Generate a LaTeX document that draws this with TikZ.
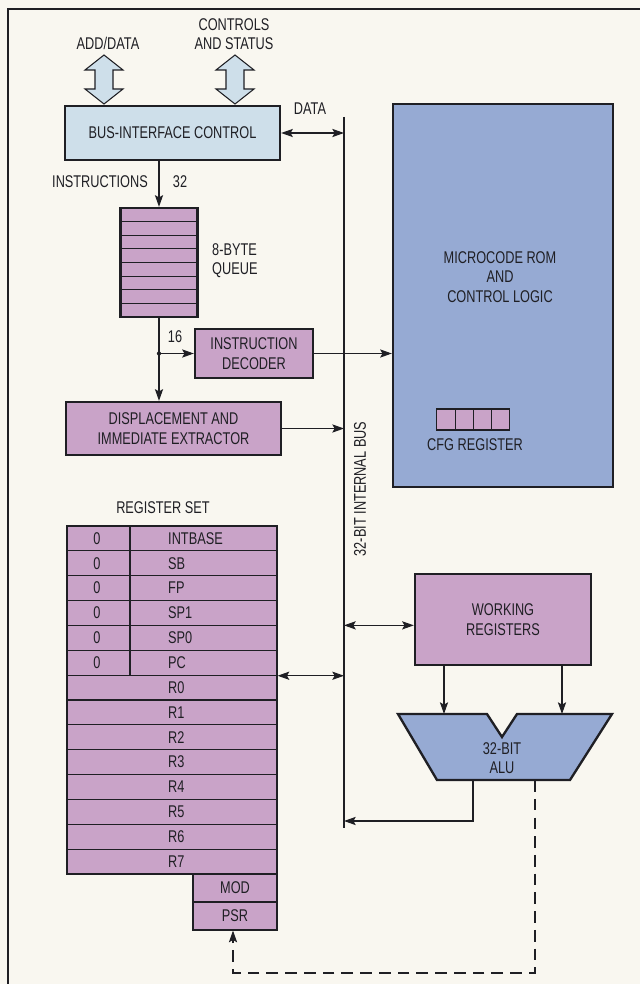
\documentclass[tikz,border=0pt]{standalone}
\usepackage{fontspec}
\setmainfont{Liberation Sans}[FakeStretch=0.75]
\usetikzlibrary{arrows.meta}
\definecolor{paper}{HTML}{F9F7F0}
\definecolor{ink}{HTML}{1F1F24}
\definecolor{mauve}{HTML}{C9A3C8}
\definecolor{slate}{HTML}{96AAD3}
\definecolor{pale}{HTML}{CEDFEA}
\newcommand\lbl{\fontsize{14.5}{16.5}\selectfont}
\tikzset{
  box/.style={draw=ink,line width=2pt,inner sep=0pt,align=center,text=ink,font=\lbl},
  txt/.style={inner sep=0pt,align=center,text=ink,font=\lbl},
  wire/.style={draw=ink,line width=0.9pt},
  cell/.style={draw=ink,line width=1pt,fill=mauve,inner sep=0pt,text=ink,font=\lbl,
    minimum width=6.3cm,minimum height=0.7457cm}
}

\begin{document}
\begin{tikzpicture}[x=0.03cm,y=-0.03cm,>={Stealth[length=10pt,width=7pt,inset=2pt]}]
	  \fill[paper] (0,0) rectangle (640,984);
	  \useasboundingbox (0,0) rectangle (640,984);
	  \draw[ink,line width=1.4pt] (8,984) -- (8,9) -- (640,9);
	  % bus interface and its pins
	  \node[box,fill=pale,minimum width=6.45cm,minimum height=1.62cm] (biu) at (172.5,133) {BUS-INTERFACE CONTROL};
	  \foreach \xc in {104,235}
	    \filldraw[fill=pale,draw=ink,line width=0.9pt] (\xc,55) -- ++(19,15) -- ++(-10,0) -- ++(0,19) -- ++(10,0)
	      -- ++(-19,15) -- ++(-19,-15) -- ++(10,0) -- ++(0,-19) -- ++(-10,0) -- cycle;
	  \node[txt] (adddata) at (108,43) {ADD/DATA};
	  \node[txt] (ctrl) at (234,34) {CONTROLS\\AND STATUS};
	  % internal bus
	  \coordinate (bustop) at (344,117);
	  \coordinate (busbot) at (344,828);
	  \draw[wire] (bustop) -- (busbot);
	  \node[txt,rotate=90] (buslbl) at (360,489) {32-BIT INTERNAL BUS};
	  \node[txt] (datalbl) at (310,109) {DATA};
	  \draw[wire,<->] (biu.east) -- (biu.east -| bustop);
	  % queue
	  \node[box,fill=mauve,minimum width=2.31cm,minimum height=3.27cm] (queue) at (159,262.5) {};
	  \foreach \k in {1,...,7}
	    \draw[ink,line width=1pt] (120.5,{208+\k*13.625}) -- (197.5,{208+\k*13.625});
	  \node[txt,anchor=west,align=left] (qlbl) at (212,261) {8-BYTE\\QUEUE};
	  \draw[wire,->] (biu.south -| queue) -- (queue.north);
	  \node[txt,anchor=east] (instr) at (148,182) {INSTRUCTIONS};
	  \node[txt] (w32) at (180,182) {32};
	  % decoder and extractor
	  \node[box,fill=mauve,minimum width=3.54cm,minimum height=1.47cm] (dec) at (254,353.5) {INSTRUCTION\\DECODER};
	  \node[box,fill=mauve,minimum width=6.45cm,minimum height=1.59cm] (disp) at (173.5,428.5) {DISPLACEMENT AND\\IMMEDIATE EXTRACTOR};
	  \coordinate (split) at (queue.south |- dec.west);
	  \draw[wire] (queue.south) -- (split);
	  \draw[wire,->] (split) -- (disp.north -| split);
	  \draw[wire,->] (split) -- (dec.west);
	  \fill[ink] (split) circle (1.8pt);
	  \node[txt] (w16) at (175,337) {16};
	  \draw[wire,->] (disp.east) -- (disp.east -| bustop);
	  % microcode rom
	  \node[box,fill=slate,minimum width=6.6cm,minimum height=11.49cm] (rom) at (503,295.5) {};
	  \node[txt] (romlbl) at (500,277) {MICROCODE ROM\\AND\\CONTROL LOGIC};
	  \draw[wire,->] (dec.east) -- (dec.east -| rom.west);
	  \foreach \k in {0,...,3}
	    \node[draw=ink,line width=1pt,fill=mauve,inner sep=0pt,minimum width=0.5475cm,minimum height=0.63cm] (cfg\k) at ({446+\k*18.25},419.5) {};
	  \node[txt] (cfglbl) at (475,445) {CFG REGISTER};
	  % register set
	  \node[txt] (rslbl) at (163,508) {REGISTER SET};
	  \foreach \name [count=\i from 0] in {INTBASE,SB,FP,SP1,SP0,PC,R0,R1,R2,R3,R4,R5,R6,R7} {
	    \node[cell] (reg\i) at (172,{526+(\i+0.5)*24.857}) {};
	    \node[txt,anchor=west] (rn\i) at (168,{526+(\i+0.5)*24.857}) {\name};
	  }
	  \foreach \i in {0,...,5}
	    \node[txt] (z\i) at (97,{526+(\i+0.5)*24.857}) {0};
	  \draw[ink,line width=1pt] (130,526) -- (130,675.1);
	  \node[cell,minimum width=2.52cm,minimum height=0.84cm] (mod) at (235,888) {MOD};
	  \node[cell,minimum width=2.52cm,minimum height=0.84cm] (psr) at (235,916) {PSR};
	  \draw[ink,line width=2pt] (67,526) -- (277,526) -- (277,930) -- (193,930) -- (193,874) -- (67,874) -- cycle;
	  \draw[wire,<->] (reg5.south east) -- (reg5.south east -| bustop);
	  % working registers and alu
	  \node[box,fill=mauve,minimum width=5.28cm,minimum height=2.73cm] (wr) at (503,619.5) {WORKING\\REGISTERS};
	  \draw[wire,<->] ([yshift=-5pt]wr.west) -- ([yshift=-5pt]wr.west -| bustop);
	  \filldraw[fill=slate,draw=ink,line width=2pt] (398,714) -- (487,714) -- (502,737) -- (517,714) -- (612,714)
	    -- (570,780) -- (437,780) -- cycle;
	  \node[txt] (alu) at (502,758) {32-BIT\\ALU};
	  \coordinate (aluinl) at (444,714);
	  \coordinate (aluinr) at (562,714);
	  \draw[wire,->] (wr.south -| aluinl) -- (aluinl);
	  \draw[wire,->] (wr.south -| aluinr) -- (aluinr);
	  \coordinate (aluout) at (473,780);
	  \coordinate (busin) at (344,821);
	  \draw[wire,->] (aluout) |- (busin);
	  \coordinate (aluflag) at (535,780);
	  \coordinate (flagturn) at (233,973);
	  \draw[wire,dash pattern=on 10pt off 6pt,->] (aluflag) |- (flagturn) -- (flagturn |- psr.south);
	\end{tikzpicture}
\end{document}
